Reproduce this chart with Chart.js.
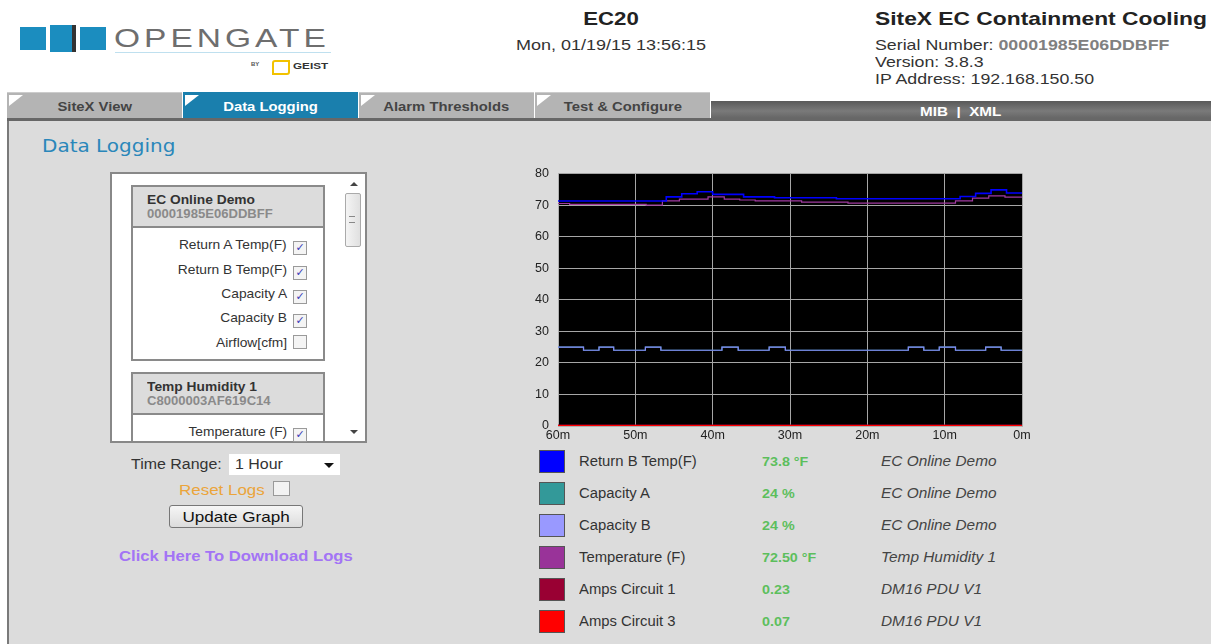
<!DOCTYPE html>
<html>
<head>
<meta charset="utf-8">
<script src="https://cdn.jsdelivr.net/npm/chart.js@4.4.1/dist/chart.umd.min.js"></script>
<style>
  body { margin: 0; width: 1211px; height: 644px; background: #fff; font-family: "Liberation Sans", Arial, sans-serif; color: #333; overflow: hidden; position: relative; }
  .abs { position: absolute; }
  .l { transform-origin: 0 50%; }
  .c { transform-origin: 50% 50%; }
  .ib { display: inline-block; }
  .sq { position: absolute; background: #1b8dbf; }
  .tab { position: absolute; top: 92px; height: 26px; width: 175px; background: #b4b4b4; color: #444; font-weight: bold; font-size: 13px; text-align: center; line-height: 27px; border-top: 1px solid #ccc; box-sizing: border-box; }
  .tab span { display: inline-block; transform: scaleX(1.14); }
  .tab.active { background: #1a7fad; color: #fff; border-top-color: #1a7fad; }
  .tab:before { content: ""; position: absolute; left: 2px; top: 2px; border-top: 11px solid #fff; border-right: 14px solid transparent; }
  .group { position: absolute; left: 131px; width: 194px; border: 2px solid #8a8a8a; background: #fff; box-sizing: border-box; }
  .ghead { background: #dcdcdc; border-bottom: 2px solid #8a8a8a; height: 41px; padding: 5px 0 0 14px; box-sizing: border-box; }
  .ghead b { display: block; font-size: 13px; color: #333; line-height: 15px; transform: scaleX(1.06); transform-origin: 0 50%; }
  .ghead span { display: block; font-size: 12px; color: #8a8a8a; font-weight: bold; line-height: 14px; transform: scaleX(1.09); transform-origin: 0 50%; }
  .item { position: absolute; left: 131px; width: 176px; text-align: right; font-size: 13px; color: #333; }
  .item .t { display: inline-block; transform: scaleX(1.06); transform-origin: 100% 50%; }
  .cb { display: inline-block; width: 12px; height: 12px; border: 1px solid #9a9a9a; background: #f4f4f4; vertical-align: -2px; margin-left: 6px; font-size: 11px; line-height: 12px; text-align: center; color: #3b3bb8; font-family: "DejaVu Sans", sans-serif; }
  .sw { position: absolute; left: 539px; width: 24px; height: 21px; border: 1px solid #555; }
  .lname { position: absolute; left: 579px; font-size: 14px; color: #333; transform: scaleX(1.06); transform-origin: 0 50%; }
  .lval { position: absolute; left: 762px; font-size: 13px; font-weight: bold; color: #5cbf5c; transform: scaleX(1.1); transform-origin: 0 50%; }
  .ldev { position: absolute; left: 881px; font-size: 14px; font-style: italic; color: #444; transform: scaleX(1.1); transform-origin: 0 50%; }
</style>
</head>
<body>

<!-- logo -->
<div class="sq" style="left:20px;top:27px;width:26px;height:23px;"></div>
<div class="sq" style="left:50px;top:25px;width:22px;height:27px;"></div>
<div class="abs" style="left:72px;top:25px;width:4px;height:27px;background:#333;"></div>
<div class="sq" style="left:80px;top:27px;width:26px;height:23px;"></div>
<div class="abs l" style="left:114px;top:24px;font-size:25px;letter-spacing:3px;color:#6e6e6e;transform:scaleX(1.34);">OPENGATE</div>
<div class="abs" style="left:115px;top:52px;width:216px;height:1px;background:#bfe0ef;"></div>
<div class="abs" style="left:251px;top:61px;font-size:6px;color:#555;font-weight:bold;">BY</div>
<div class="abs" style="left:272px;top:60px;width:14px;height:11px;border:2px solid #f2c200;border-radius:3px 0 3px 0;"></div>
<div class="abs" style="left:293px;top:61px;font-size:9px;font-weight:bold;color:#333;transform:scaleX(1.3);transform-origin:0 50%;">GEIST</div>

<!-- header texts -->
<div class="abs c" style="left:511px;width:200px;top:8px;text-align:center;font-size:19px;font-weight:bold;color:#222;transform:scaleX(1.17);">EC20</div>
<div class="abs c" style="left:481px;width:260px;top:36px;text-align:center;font-size:15px;color:#333;transform:scaleX(1.2);">Mon, 01/19/15 13:56:15</div>
<div class="abs l" style="left:875px;top:8px;font-size:19px;font-weight:bold;color:#222;transform:scaleX(1.2);">SiteX EC Containment Cooling</div>
<div class="abs" style="left:875px;top:36px;font-size:15px;color:#333;line-height:17px;transform:scaleX(1.185);transform-origin:0 0;">Serial Number: <b style="color:#808080;">00001985E06DDBFF</b><br>Version: 3.8.3<br>IP Address: 192.168.150.50</div>

<!-- tabs -->
<div class="tab" style="left:7px;"><span>SiteX View</span></div>
<div class="tab active" style="left:183px;"><span>Data Logging</span></div>
<div class="tab" style="left:359px;"><span>Alarm Thresholds</span></div>
<div class="tab" style="left:535px;"><span>Test &amp; Configure</span></div>
<div class="abs" style="left:711px;top:101px;width:500px;height:20px;background:linear-gradient(#595959,#7a7a7a 50%,#5e5e5e);color:#fff;font-weight:bold;font-size:13px;text-align:center;line-height:21px;"><span class="ib" style="transform:scaleX(1.17);">MIB&nbsp; | &nbsp;XML</span></div>
<div class="abs" style="left:7px;top:118px;width:1204px;height:3px;background:#676767;"></div>

<!-- body -->
<div class="abs" style="left:7px;top:121px;width:1204px;height:523px;background:#dcdcdc;border-left:2px solid #7a7a7a;box-sizing:border-box;"></div>
<div class="abs l" style="left:42px;top:135px;font-family:'DejaVu Sans',sans-serif;font-size:18px;color:#2a87ba;transform:scaleX(1.11);">Data Logging</div>

<!-- left panel -->
<div class="abs" style="left:110px;top:172px;width:257px;height:271px;border:2px solid #888;background:#fff;box-sizing:border-box;overflow:hidden;">
  <div class="abs" style="left:231px;top:0;width:22px;height:267px;background:#fff;">
    <div class="abs" style="left:7px;top:8px;border-bottom:4px solid #444;border-left:4px solid transparent;border-right:4px solid transparent;"></div>
    <div class="abs" style="left:2px;top:19px;width:14px;height:52px;border:1px solid #aaa;border-radius:2px;background:linear-gradient(90deg,#f4f4f4,#e0e0e0);"></div>
    <div class="abs" style="left:6px;top:42px;width:6px;height:5px;border-top:1px solid #888;border-bottom:1px solid #888;"></div>
    <div class="abs" style="left:7px;top:256px;border-top:4px solid #444;border-left:4px solid transparent;border-right:4px solid transparent;"></div>
  </div>
</div>
<div class="group" style="top:185px;height:176px;">
  <div class="ghead"><b>EC Online Demo</b><span>00001985E06DDBFF</span></div>
</div>
<div class="item" style="top:237px;"><span class="t">Return A Temp(F)</span><span class="cb">✓</span></div>
<div class="item" style="top:262px;"><span class="t">Return B Temp(F)</span><span class="cb">✓</span></div>
<div class="item" style="top:286px;"><span class="t">Capacity A</span><span class="cb">✓</span></div>
<div class="item" style="top:310px;"><span class="t">Capacity B</span><span class="cb">✓</span></div>
<div class="item" style="top:335px;"><span class="t">Airflow[cfm]</span><span class="cb"></span></div>
<div class="group" style="top:372px;height:69px;border-bottom:none;">
  <div class="ghead"><b>Temp Humidity 1</b><span>C8000003AF619C14</span></div>
</div>
<div class="item" style="top:424px;"><span class="t">Temperature (F)</span><span class="cb">✓</span></div>

<!-- controls -->
<div class="abs l" style="left:131px;top:456px;font-size:14px;color:#333;transform:scaleX(1.14);">Time Range:</div>
<div class="abs" style="left:229px;top:454px;width:111px;height:21px;background:#fff;font-size:14px;line-height:21px;padding-left:6px;box-sizing:border-box;"><span class="ib l" style="transform:scaleX(1.14);">1 Hour</span></div>
<div class="abs" style="left:324px;top:463px;border-top:5px solid #111;border-left:5px solid transparent;border-right:5px solid transparent;"></div>
<div class="abs l" style="left:179px;top:481px;font-size:15px;color:#eba43a;transform:scaleX(1.13);">Reset Logs</div>
<div class="abs" style="left:273px;top:481px;width:15px;height:13px;border:1px solid #999;background:#f2f2f2;"></div>
<div class="abs" style="left:169px;top:505px;width:134px;height:23px;border:1px solid #777;border-radius:3px;background:linear-gradient(#f6f6f6,#dcdcdc);box-sizing:border-box;font-size:15px;text-align:center;line-height:21px;color:#111;"><span class="ib" style="transform:scaleX(1.14);">Update Graph</span></div>
<div class="abs l" style="left:119px;top:547px;font-size:15px;font-weight:bold;color:#a374f5;transform:scaleX(1.11);">Click Here To Download Logs</div>

<!-- chart -->
<div class="abs" style="left:520px;top:165px;width:515px;height:280px;">
  <canvas id="logChart"></canvas>
</div>

<!-- legend table -->
<div class="sw" style="top:450px;background:#0000ff;"></div>
<div class="sw" style="top:482px;background:#339999;"></div>
<div class="sw" style="top:514px;background:#9999ff;"></div>
<div class="sw" style="top:546px;background:#993399;"></div>
<div class="sw" style="top:578px;background:#990033;"></div>
<div class="sw" style="top:610px;background:#ff0000;"></div>
<div class="lname" style="top:453px;">Return B Temp(F)</div>
<div class="lname" style="top:485px;">Capacity A</div>
<div class="lname" style="top:517px;">Capacity B</div>
<div class="lname" style="top:549px;">Temperature (F)</div>
<div class="lname" style="top:581px;">Amps Circuit 1</div>
<div class="lname" style="top:613px;">Amps Circuit 3</div>
<div class="lval" style="top:454px;">73.8 °F</div>
<div class="lval" style="top:486px;">24 %</div>
<div class="lval" style="top:518px;">24 %</div>
<div class="lval" style="top:550px;">72.50 °F</div>
<div class="lval" style="top:582px;">0.23</div>
<div class="lval" style="top:614px;">0.07</div>
<div class="ldev" style="top:453px;">EC Online Demo</div>
<div class="ldev" style="top:485px;">EC Online Demo</div>
<div class="ldev" style="top:517px;">EC Online Demo</div>
<div class="ldev" style="top:549px;">Temp Humidity 1</div>
<div class="ldev" style="top:581px;">DM16 PDU V1</div>
<div class="ldev" style="top:613px;">DM16 PDU V1</div>

<script>
// Minutos atrás em que cada valor passa a valer (degraus)
const returnBTimes = [60, 46, 44, 42, 40, 36, 32, 24, 8, 6, 4, 2, 0];
const returnBTemp = [71.3, 72.6, 73.6, 74.2, 73.4, 72.6, 72.3, 72.0, 72.7, 73.7, 74.8, 73.8, 73.8];

const tempTimes = [60, 58.5, 48.6, 46.5, 44.3, 40.6, 38.5, 36.5, 34.5, 28.5, 22.5, 8.6, 6.4, 4.3, 2.2, 0];
const tempValues = [70.5, 70.2, 70.0, 71.3, 71.9, 72.6, 71.9, 71.6, 71.3, 70.9, 70.6, 71.3, 72.2, 72.9, 72.5, 72.5];

const capacityTimes = [60, 56.7, 54.7, 52.8, 48.7, 46.7, 38.8, 36.7, 32.7, 30.6, 14.7, 12.7, 10.7, 8.6, 4.7, 2.7, 0];
const capacityA = [25, 24, 25, 24, 25, 24, 25, 24, 25, 24, 25, 24, 25, 24, 25, 24, 24];
const capacityB = [25, 24, 25, 24, 25, 24, 25, 24, 25, 24, 25, 24, 25, 24, 25, 24, 24];

const ampsTimes = [60, 0];
const amps1 = [0.23, 0.23];
const amps3 = [0.07, 0.07];

const xTicks = [60, 50, 40, 30, 20, 10, 0];
const yTicks = [0, 10, 20, 30, 40, 50, 60, 70, 80];

// junta tempos e valores em pontos {x, y}
function toPoints(times, values) {
    return times.map((t, i) => ({ x: t, y: values[i] }));
}

function serie(label, times, values, color, width, order) {
    return {
        label,
        data: toPoints(times, values),
        borderColor: color,
        backgroundColor: color,
        borderWidth: width,
        pointRadius: 0,
        stepped: true,
        order
    };
}

// fundo preto da área do gráfico
const blackArea = {
    id: 'blackArea',
    beforeDraw(chart) {
        const { ctx, chartArea: a } = chart;
        ctx.save();
        ctx.fillStyle = '#000';
        ctx.fillRect(a.left, a.top, a.right - a.left, a.bottom - a.top);
        ctx.restore();
    }
};

const tickFont = { family: 'Liberation Sans', size: 12.5 };

const ctx = document.getElementById('logChart').getContext('2d');
const logChart = new Chart(ctx, {
    type: 'line',
    data: {
        datasets: [
            serie('Return B Temp(F)', returnBTimes, returnBTemp, '#0000ff', 1.6, 1),
            serie('Capacity A', capacityTimes, capacityA, '#339999', 1.2, 3),
            serie('Capacity B', capacityTimes, capacityB, '#8585f5', 1.2, 2),
            serie('Temperature (F)', tempTimes, tempValues, '#a03aa0', 1.2, 2),
            serie('Amps Circuit 1', ampsTimes, amps1, '#990033', 1.5, 3),
            serie('Amps Circuit 3', ampsTimes, amps3, '#ff0000', 1.5, 1)
        ]
    },
    options: {
        responsive: true,
        maintainAspectRatio: false,
        animation: false,
        layout: { padding: { top: 0, right: 13, left: 0, bottom: 0 } },
        plugins: { legend: { display: false }, tooltip: { enabled: false } },
        scales: {
            x: {
                type: 'linear',
                reverse: true,
                min: 0,
                max: 60,
                afterBuildTicks: (s) => { s.ticks = xTicks.map(v => ({ value: v })); },
                afterFit: (s) => { s.height = 19; },
                grid: { color: '#a6a6a6', drawTicks: false },
                border: { color: '#b0b0b0' },
                ticks: { color: '#222', font: tickFont, padding: 2, maxRotation: 0, callback: (v) => v + 'm' }
            },
            y: {
                min: 0,
                max: 80,
                afterBuildTicks: (s) => { s.ticks = yTicks.map(v => ({ value: v })); },
                afterFit: (s) => { s.width = 38; },
                grid: { color: '#a6a6a6', drawTicks: true, tickLength: 8, tickColor: 'rgba(0,0,0,0)' },
                border: { color: '#b0b0b0' },
                ticks: { color: '#222', font: tickFont, padding: 1 }
            }
        }
    },
    plugins: [blackArea]
});
</script>
</body>
</html>
